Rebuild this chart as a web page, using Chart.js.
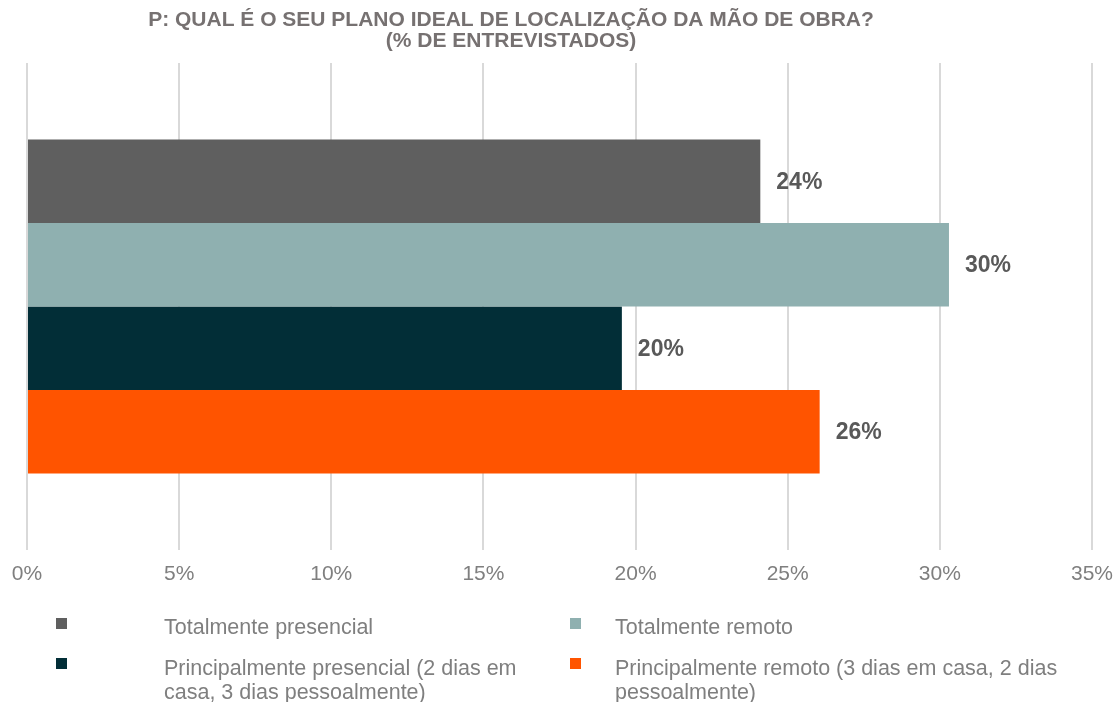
<!DOCTYPE html>
<html>
<head>
<meta charset="utf-8">
<script src="https://cdn.jsdelivr.net/npm/chart.js@4"></script>
<style>
  html, body { margin: 0; padding: 0; background: #ffffff; }
  #wrap { position: relative; width: 1117px; height: 702px; }
  #c { position: absolute; left: 0; top: 0; }
  .lg-item { position: absolute; font-family: "Liberation Sans", Arial, sans-serif; font-size: 21.5px; line-height: 24px; color: #7f7f7f; }
  .lg-box { position: absolute; width: 11px; height: 11px; }
</style>
</head>
<body>
<div id="wrap">
  <canvas id="c" width="1117" height="702"></canvas>
  <div id="legend"></div>
</div>
<script>
const titleLines = ["P: QUAL É O SEU PLANO IDEAL DE LOCALIZAÇÃO DA MÃO DE OBRA?", "(% DE ENTREVISTADOS)"];
const categories = [""];
const seriesNames = [
  "Totalmente presencial",
  "Totalmente remoto",
  "Principalmente presencial (2 dias em casa, 3 dias pessoalmente)",
  "Principalmente remoto (3 dias em casa, 2 dias pessoalmente)"
];
const seriesValues = [24.1, 30.3, 19.55, 26.05];
const seriesColors = ["#5f5f5f", "#8fb0b0", "#022e37", "#ff5400"];
const axisMin = 0;
const axisMax = 35;
const axisStep = 5;

const FONT = '"Liberation Sans", Arial, sans-serif';

const datasets = seriesNames.map((name, i) => ({
  label: name,
  data: [seriesValues[i]],
  backgroundColor: seriesColors[i],
  borderWidth: 0,
  categoryPercentage: 0.686,
  barPercentage: 1.0
}));

const valueLabels = {
  id: 'valueLabels',
  afterDatasetsDraw(chart) {
    const ctx = chart.ctx;
    ctx.save();
    ctx.font = 'bold 23px ' + FONT;
    ctx.fillStyle = '#595959';
    ctx.textAlign = 'left';
    ctx.textBaseline = 'middle';
    chart.data.datasets.forEach((ds, i) => {
      const meta = chart.getDatasetMeta(i);
      meta.data.forEach((bar, j) => {
        const v = ds.data[j];
        ctx.fillText(Math.round(v) + '%', bar.x + 16, bar.y + 1);
      });
    });
    ctx.restore();
  }
};

const titleDraw = {
  id: 'titleDraw',
  afterDraw(chart) {
    const ctx = chart.ctx;
    ctx.save();
    ctx.font = 'bold 21px ' + FONT;
    ctx.fillStyle = '#767171';
    ctx.textAlign = 'center';
    ctx.textBaseline = 'middle';
    const cx = 511;
    titleLines.forEach((line, i) => ctx.fillText(line, cx, 20 + i * 20.8));
    ctx.restore();
  }
};

new Chart(document.getElementById('c'), {
  type: 'bar',
  data: { labels: categories, datasets: datasets },
  options: {
    indexAxis: 'y',
    responsive: false,
    animation: false,
    layout: { padding: { left: 27, right: 25, top: 63, bottom: 108 } },
    scales: {
      x: {
        min: axisMin, max: axisMax,
        border: { display: false },
        grid: { color: '#d9d9d9', lineWidth: 2, drawTicks: false },
        afterFit: (scale) => { scale.height = 44; },
        ticks: {
          stepSize: axisStep,
          padding: 4,
          color: '#7f7f7f',
          font: { family: FONT, size: 21, lineHeight: 1.95 },
          callback: (v) => v + '%'
        }
      },
      y: { display: false }
    },
    plugins: {
      legend: { display: false },
      tooltip: { enabled: false },
      title: { display: false }
    }
  },
  plugins: [valueLabels, titleDraw]
});

// HTML legend (two columns)
const legendPos = [
  { box: [56, 618], text: [164, 615], w: 390 },
  { box: [570, 618], text: [615, 615], w: 450 },
  { box: [56, 658], text: [164, 656], w: 390 },
  { box: [570, 658], text: [615, 656], w: 450 }
];
const legendEl = document.getElementById('legend');
seriesNames.forEach((name, i) => {
  const p = legendPos[i];
  const b = document.createElement('div');
  b.className = 'lg-box';
  b.style.left = p.box[0] + 'px';
  b.style.top = p.box[1] + 'px';
  b.style.background = seriesColors[i];
  legendEl.appendChild(b);
  const t = document.createElement('div');
  t.className = 'lg-item';
  t.style.left = p.text[0] + 'px';
  t.style.top = p.text[1] + 'px';
  t.style.width = p.w + 'px';
  t.textContent = name;
  legendEl.appendChild(t);
});
</script>
</body>
</html>
